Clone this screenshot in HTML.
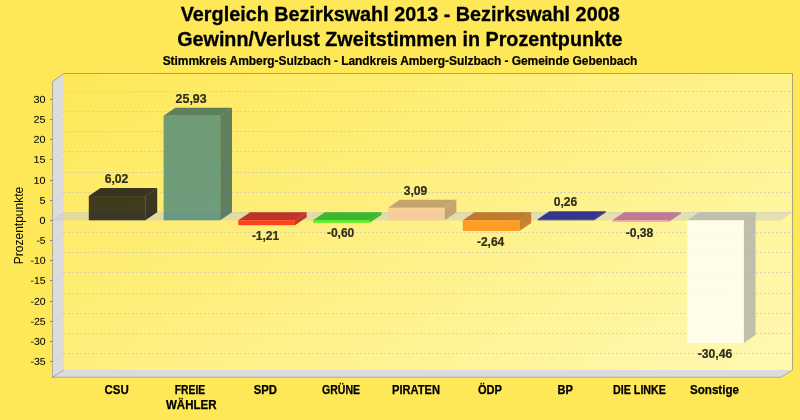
<!DOCTYPE html>
<html lang="de"><head><meta charset="utf-8"><title>Vergleich Bezirkswahl 2013 - Bezirkswahl 2008</title>
<style>
html,body{margin:0;padding:0;background:#FEE858;}
body{width:800px;height:420px;overflow:hidden;font-family:"Liberation Sans",Arial,sans-serif;}
svg{display:block;}
svg text{font-family:"Liberation Sans",Arial,sans-serif;}
svg{will-change:transform;-webkit-font-smoothing:antialiased;}
.t1{font-size:20.6px;font-weight:bold;fill:#000;text-anchor:middle;stroke:#000;stroke-width:0.3px;}
.t3{font-size:12px;font-weight:bold;fill:#000;text-anchor:middle;letter-spacing:-0.06px;stroke:#000;stroke-width:0.2px;}
.ax{font-size:9.8px;fill:#000;text-anchor:end;stroke:#000;stroke-width:0.08px;}
.ayt{font-size:12px;fill:#000;text-anchor:middle;}
.cat{font-size:12px;font-weight:bold;fill:#000;text-anchor:middle;stroke:#000;stroke-width:0.25px;}
.val{font-size:12px;font-weight:bold;fill:#2E2E1E;text-anchor:middle;stroke:#2E2E1E;stroke-width:0.2px;}
</style></head><body>
<svg width="800" height="420" viewBox="0 0 800 420">
<defs><linearGradient id="bp" x1="0" y1="0" x2="1.143" y2="0.794"><stop offset="0" stop-color="#FEE858"/><stop offset="1" stop-color="#FEF9B2"/></linearGradient></defs>
<rect x="0" y="0" width="800" height="420" fill="#FEE858"/>
<text class="t1" x="400.2" y="20.7" textLength="438.9" lengthAdjust="spacingAndGlyphs">Vergleich Bezirkswahl 2013 - Bezirkswahl 2008</text>
<text class="t1" x="399.9" y="45.7" textLength="445.4" lengthAdjust="spacingAndGlyphs">Gewinn/Verlust Zweitstimmen in Prozentpunkte</text>
<text class="t3" x="400" y="65">Stimmkreis Amberg-Sulzbach - Landkreis Amberg-Sulzbach - Gemeinde Gebenbach</text>
<rect x="64.0" y="73.5" width="728.5" height="296.5" fill="url(#bp)"/>
<polygon points="52.50,81.50 64.00,73.50 64.00,370.00 52.50,377.25" fill="#DCDCDC"/>
<polygon points="52.50,377.25 64.00,370.00 792.50,370.00 781.00,377.25" fill="#DCDCDC"/>
<line x1="52.5" y1="377.25" x2="64.0" y2="370.0" stroke="#A6A6A6" stroke-width="1"/>
<line x1="64.0" y1="353.50" x2="792.5" y2="353.50" stroke="#C6C6C6" stroke-opacity="0.7" stroke-width="1" stroke-dasharray="2 2"/>
<line x1="52.5" y1="361.50" x2="64.0" y2="353.50" stroke="#CECECE" stroke-width="1" stroke-dasharray="2 2"/>
<line x1="50.0" y1="361.50" x2="52.5" y2="361.50" stroke="#80828C" stroke-width="1"/>
<text class="ax" transform="translate(45.5,364.85) rotate(0.03)" textLength="15.1" lengthAdjust="spacingAndGlyphs">-35</text>
<line x1="64.0" y1="333.50" x2="792.5" y2="333.50" stroke="#C6C6C6" stroke-opacity="0.7" stroke-width="1" stroke-dasharray="2 2"/>
<line x1="52.5" y1="341.50" x2="64.0" y2="333.50" stroke="#CECECE" stroke-width="1" stroke-dasharray="2 2"/>
<line x1="50.0" y1="341.50" x2="52.5" y2="341.50" stroke="#80828C" stroke-width="1"/>
<text class="ax" transform="translate(45.5,344.85) rotate(0.03)" textLength="15.1" lengthAdjust="spacingAndGlyphs">-30</text>
<line x1="64.0" y1="313.50" x2="792.5" y2="313.50" stroke="#C6C6C6" stroke-opacity="0.7" stroke-width="1" stroke-dasharray="2 2"/>
<line x1="52.5" y1="321.50" x2="64.0" y2="313.50" stroke="#CECECE" stroke-width="1" stroke-dasharray="2 2"/>
<line x1="50.0" y1="321.50" x2="52.5" y2="321.50" stroke="#80828C" stroke-width="1"/>
<text class="ax" transform="translate(45.5,324.85) rotate(0.03)" textLength="15.1" lengthAdjust="spacingAndGlyphs">-25</text>
<line x1="64.0" y1="293.50" x2="792.5" y2="293.50" stroke="#C6C6C6" stroke-opacity="0.7" stroke-width="1" stroke-dasharray="2 2"/>
<line x1="52.5" y1="301.50" x2="64.0" y2="293.50" stroke="#CECECE" stroke-width="1" stroke-dasharray="2 2"/>
<line x1="50.0" y1="301.50" x2="52.5" y2="301.50" stroke="#80828C" stroke-width="1"/>
<text class="ax" transform="translate(45.5,304.85) rotate(0.03)" textLength="15.1" lengthAdjust="spacingAndGlyphs">-20</text>
<line x1="64.0" y1="272.50" x2="792.5" y2="272.50" stroke="#C6C6C6" stroke-opacity="0.7" stroke-width="1" stroke-dasharray="2 2"/>
<line x1="52.5" y1="280.50" x2="64.0" y2="272.50" stroke="#CECECE" stroke-width="1" stroke-dasharray="2 2"/>
<line x1="50.0" y1="280.50" x2="52.5" y2="280.50" stroke="#80828C" stroke-width="1"/>
<text class="ax" transform="translate(45.5,283.85) rotate(0.03)" textLength="15.1" lengthAdjust="spacingAndGlyphs">-15</text>
<line x1="64.0" y1="252.50" x2="792.5" y2="252.50" stroke="#C6C6C6" stroke-opacity="0.7" stroke-width="1" stroke-dasharray="2 2"/>
<line x1="52.5" y1="260.50" x2="64.0" y2="252.50" stroke="#CECECE" stroke-width="1" stroke-dasharray="2 2"/>
<line x1="50.0" y1="260.50" x2="52.5" y2="260.50" stroke="#80828C" stroke-width="1"/>
<text class="ax" transform="translate(45.5,263.85) rotate(0.03)" textLength="15.1" lengthAdjust="spacingAndGlyphs">-10</text>
<line x1="64.0" y1="232.50" x2="792.5" y2="232.50" stroke="#C6C6C6" stroke-opacity="0.7" stroke-width="1" stroke-dasharray="2 2"/>
<line x1="52.5" y1="240.50" x2="64.0" y2="232.50" stroke="#CECECE" stroke-width="1" stroke-dasharray="2 2"/>
<line x1="50.0" y1="240.50" x2="52.5" y2="240.50" stroke="#80828C" stroke-width="1"/>
<text class="ax" transform="translate(45.5,243.85) rotate(0.03)" textLength="9.1" lengthAdjust="spacingAndGlyphs">-5</text>
<line x1="64.0" y1="212.50" x2="792.5" y2="212.50" stroke="#C6C6C6" stroke-opacity="0.7" stroke-width="1" stroke-dasharray="2 2"/>
<line x1="52.5" y1="220.50" x2="64.0" y2="212.50" stroke="#CECECE" stroke-width="1" stroke-dasharray="2 2"/>
<line x1="50.0" y1="220.50" x2="52.5" y2="220.50" stroke="#80828C" stroke-width="1"/>
<text class="ax" transform="translate(45.5,223.85) rotate(0.03)" textLength="6.0" lengthAdjust="spacingAndGlyphs">0</text>
<line x1="64.0" y1="192.50" x2="792.5" y2="192.50" stroke="#C6C6C6" stroke-opacity="0.7" stroke-width="1" stroke-dasharray="2 2"/>
<line x1="52.5" y1="200.50" x2="64.0" y2="192.50" stroke="#CECECE" stroke-width="1" stroke-dasharray="2 2"/>
<line x1="50.0" y1="200.50" x2="52.5" y2="200.50" stroke="#80828C" stroke-width="1"/>
<text class="ax" transform="translate(45.5,203.85) rotate(0.03)" textLength="6.0" lengthAdjust="spacingAndGlyphs">5</text>
<line x1="64.0" y1="172.50" x2="792.5" y2="172.50" stroke="#C6C6C6" stroke-opacity="0.7" stroke-width="1" stroke-dasharray="2 2"/>
<line x1="52.5" y1="180.50" x2="64.0" y2="172.50" stroke="#CECECE" stroke-width="1" stroke-dasharray="2 2"/>
<line x1="50.0" y1="180.50" x2="52.5" y2="180.50" stroke="#80828C" stroke-width="1"/>
<text class="ax" transform="translate(45.5,183.85) rotate(0.03)" textLength="12.0" lengthAdjust="spacingAndGlyphs">10</text>
<line x1="64.0" y1="151.50" x2="792.5" y2="151.50" stroke="#C6C6C6" stroke-opacity="0.7" stroke-width="1" stroke-dasharray="2 2"/>
<line x1="52.5" y1="159.50" x2="64.0" y2="151.50" stroke="#CECECE" stroke-width="1" stroke-dasharray="2 2"/>
<line x1="50.0" y1="159.50" x2="52.5" y2="159.50" stroke="#80828C" stroke-width="1"/>
<text class="ax" transform="translate(45.5,162.85) rotate(0.03)" textLength="12.0" lengthAdjust="spacingAndGlyphs">15</text>
<line x1="64.0" y1="131.50" x2="792.5" y2="131.50" stroke="#C6C6C6" stroke-opacity="0.7" stroke-width="1" stroke-dasharray="2 2"/>
<line x1="52.5" y1="139.50" x2="64.0" y2="131.50" stroke="#CECECE" stroke-width="1" stroke-dasharray="2 2"/>
<line x1="50.0" y1="139.50" x2="52.5" y2="139.50" stroke="#80828C" stroke-width="1"/>
<text class="ax" transform="translate(45.5,142.85) rotate(0.03)" textLength="12.0" lengthAdjust="spacingAndGlyphs">20</text>
<line x1="64.0" y1="111.50" x2="792.5" y2="111.50" stroke="#C6C6C6" stroke-opacity="0.7" stroke-width="1" stroke-dasharray="2 2"/>
<line x1="52.5" y1="119.50" x2="64.0" y2="111.50" stroke="#CECECE" stroke-width="1" stroke-dasharray="2 2"/>
<line x1="50.0" y1="119.50" x2="52.5" y2="119.50" stroke="#80828C" stroke-width="1"/>
<text class="ax" transform="translate(45.5,122.85) rotate(0.03)" textLength="12.0" lengthAdjust="spacingAndGlyphs">25</text>
<line x1="64.0" y1="91.50" x2="792.5" y2="91.50" stroke="#C6C6C6" stroke-opacity="0.7" stroke-width="1" stroke-dasharray="2 2"/>
<line x1="52.5" y1="99.50" x2="64.0" y2="91.50" stroke="#CECECE" stroke-width="1" stroke-dasharray="2 2"/>
<line x1="50.0" y1="99.50" x2="52.5" y2="99.50" stroke="#80828C" stroke-width="1"/>
<text class="ax" transform="translate(45.5,102.85) rotate(0.03)" textLength="12.0" lengthAdjust="spacingAndGlyphs">30</text>
<polyline points="52.50,81.50 64.00,73.50 792.50,73.50 792.50,370.00" fill="none" stroke="#808074" stroke-opacity="0.65" stroke-width="1"/>
<polyline points="52.50,81.50 52.50,377.25 781.00,377.25 792.50,370.00" fill="none" stroke="#7C7E92" stroke-opacity="0.55" stroke-width="1"/>
<text class="ayt" transform="translate(23,225.5) rotate(-90)">Prozentpunkte</text>
<polygon points="52.50,220.40 64.00,212.00 792.50,212.00 781.00,220.40" fill="#C8C8C8" fill-opacity="0.48"/>
<g fill-opacity="0.8"><polygon points="88.80,196.04 100.60,188.04 157.20,188.04 145.40,196.04" fill="#070608"/><polygon points="145.40,196.04 157.20,188.04 157.20,212.30 145.40,220.30" fill="#0A0A0B"/><rect x="88.80" y="196.04" width="56.6" height="24.26" fill="#110F0A"/></g>
<g fill-opacity="0.8"><polygon points="163.60,115.80 175.40,107.80 232.00,107.80 220.20,115.80" fill="#36645C"/><polygon points="220.20,115.80 232.00,107.80 232.00,212.30 220.20,220.30" fill="#37645B"/><rect x="163.60" y="115.80" width="56.6" height="104.50" fill="#4B887B"/></g>
<g fill-opacity="0.8"><polygon points="238.30,220.30 250.10,212.30 306.70,212.30 294.90,220.30" fill="#B40B0A"/><polygon points="294.90,220.30 306.70,212.30 306.70,217.18 294.90,225.18" fill="#B70D0C"/><rect x="238.30" y="220.30" width="56.6" height="4.88" fill="#FF1306"/></g>
<g fill-opacity="0.8"><polygon points="313.10,220.30 324.90,212.30 381.50,212.30 369.70,220.30" fill="#12AF0F"/><polygon points="369.70,220.30 381.50,212.30 381.50,214.72 369.70,222.72" fill="#0EB212"/><rect x="313.10" y="220.30" width="56.6" height="2.42" fill="#13FD06"/></g>
<g fill-opacity="0.8"><polygon points="388.00,207.85 399.80,199.85 456.40,199.85 444.60,207.85" fill="#B69269"/><polygon points="444.60,207.85 456.40,199.85 456.40,212.30 444.60,220.30" fill="#B7936B"/><rect x="388.00" y="207.85" width="56.6" height="12.45" fill="#FAC898"/></g>
<g fill-opacity="0.8"><polygon points="462.80,220.30 474.60,212.30 531.20,212.30 519.40,220.30" fill="#B6610B"/><polygon points="519.40,220.30 531.20,212.30 531.20,222.94 519.40,230.94" fill="#BC6611"/><rect x="462.80" y="220.30" width="56.6" height="10.64" fill="#FF870A"/></g>
<g fill-opacity="0.8"><polygon points="537.60,219.25 549.40,211.25 606.00,211.25 594.20,219.25" fill="#0A0C84"/><polygon points="594.20,219.25 606.00,211.25 606.00,212.30 594.20,220.30" fill="#0A0C83"/><rect x="537.60" y="219.25" width="56.6" height="1.05" fill="#0C0D8B"/></g>
<g fill-opacity="0.8"><polygon points="612.40,220.30 624.20,212.30 680.80,212.30 669.00,220.30" fill="#B6618B"/><polygon points="669.00,220.30 680.80,212.30 680.80,213.83 669.00,221.83" fill="#B45F91"/><rect x="612.40" y="220.30" width="56.6" height="1.53" fill="#FF86BE"/></g>
<g fill-opacity="0.8"><polygon points="687.20,220.30 699.00,212.30 755.60,212.30 743.80,220.30" fill="#B4B6AE"/><polygon points="743.80,220.30 755.60,212.30 755.60,335.05 743.80,343.05" fill="#B0B2AE"/><rect x="687.20" y="220.30" width="56.6" height="122.75" fill="#FEFFFA"/></g>
<text class="val" x="116.55" y="182.70" textLength="23.70" lengthAdjust="spacingAndGlyphs">6,02</text>
<text class="cat" x="116.62" y="394.00" textLength="24.25" lengthAdjust="spacingAndGlyphs">CSU</text>
<text class="val" x="191.15" y="102.90" textLength="31.10" lengthAdjust="spacingAndGlyphs">25,93</text>
<text class="cat" x="190.00" y="394.00" textLength="30.40" lengthAdjust="spacingAndGlyphs">FREIE</text>
<text class="cat" x="191.25" y="408.80" textLength="50.50" lengthAdjust="spacingAndGlyphs">WÄHLER</text>
<text class="val" x="265.50" y="240.00" textLength="27.20" lengthAdjust="spacingAndGlyphs">-1,21</text>
<text class="cat" x="265.38" y="394.00" textLength="23.25" lengthAdjust="spacingAndGlyphs">SPD</text>
<text class="val" x="340.60" y="236.80" textLength="27.40" lengthAdjust="spacingAndGlyphs">-0,60</text>
<text class="cat" x="341.00" y="394.00" textLength="38.00" lengthAdjust="spacingAndGlyphs">GRÜNE</text>
<text class="val" x="415.50" y="194.50" textLength="23.60" lengthAdjust="spacingAndGlyphs">3,09</text>
<text class="cat" x="416.00" y="394.00" textLength="48.00" lengthAdjust="spacingAndGlyphs">PIRATEN</text>
<text class="val" x="490.60" y="246.00" textLength="27.40" lengthAdjust="spacingAndGlyphs">-2,64</text>
<text class="cat" x="490.00" y="394.00" textLength="24.00" lengthAdjust="spacingAndGlyphs">ÖDP</text>
<text class="val" x="565.50" y="205.80" textLength="23.60" lengthAdjust="spacingAndGlyphs">0,26</text>
<text class="cat" x="565.30" y="394.00" textLength="15.40" lengthAdjust="spacingAndGlyphs">BP</text>
<text class="val" x="639.50" y="236.80" textLength="27.60" lengthAdjust="spacingAndGlyphs">-0,38</text>
<text class="cat" x="639.50" y="394.00" textLength="53.00" lengthAdjust="spacingAndGlyphs">DIE LINKE</text>
<text class="val" x="715.00" y="357.80" textLength="34.60" lengthAdjust="spacingAndGlyphs">-30,46</text>
<text class="cat" x="714.50" y="394.00" textLength="49.00" lengthAdjust="spacingAndGlyphs">Sonstige</text>
</svg>
</body></html>
